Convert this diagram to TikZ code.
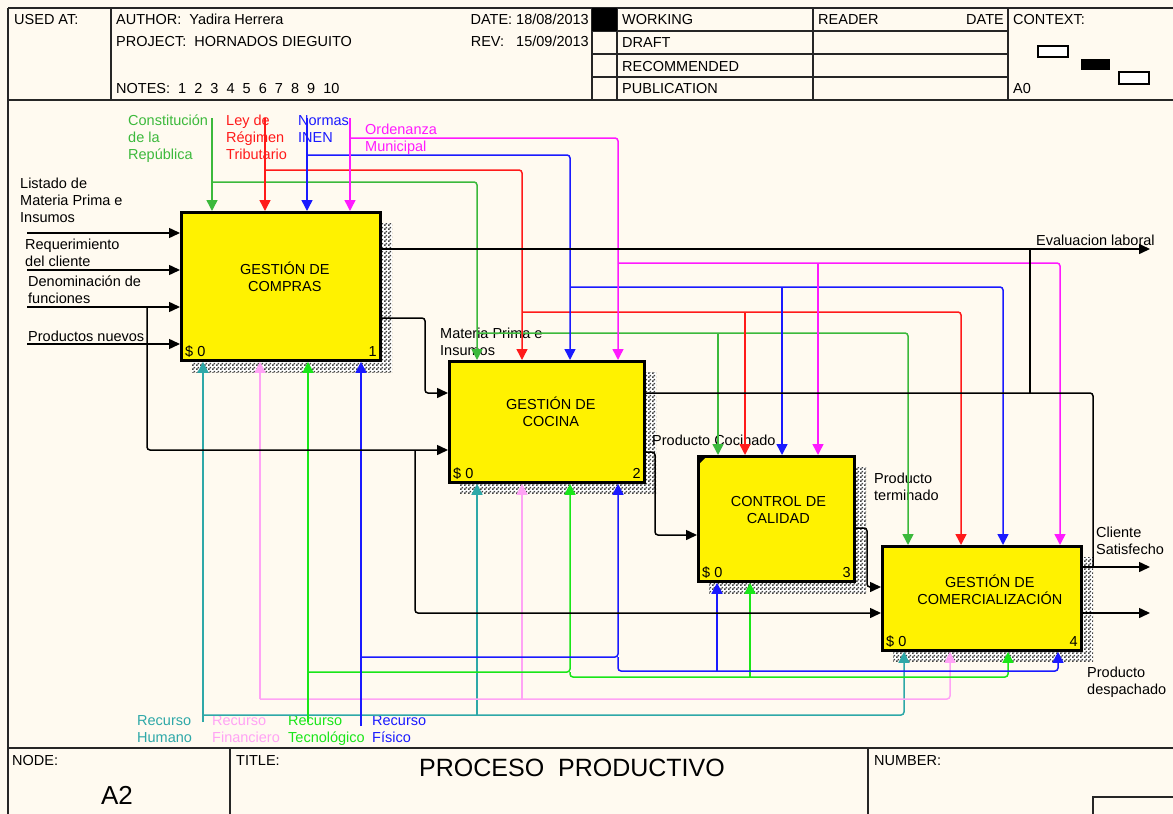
\documentclass[tikz,border=0pt]{standalone}
\usepackage{fontspec}
\setmainfont{Liberation Sans}
\usepackage{xcolor}
\usepackage{tikz}
\usetikzlibrary{arrows.meta}
\usetikzlibrary{patterns}

\definecolor{paper}{HTML}{FFFAF0}
\definecolor{verde}{HTML}{3CB93C}
\definecolor{verdeclaro}{HTML}{19E619}
\definecolor{rojo}{HTML}{FF1A1A}
\definecolor{azul}{HTML}{1A1AFF}
\definecolor{fucsia}{HTML}{FF1AFF}
\definecolor{turquesa}{HTML}{2EA8A8}
\definecolor{rosa}{HTML}{FFA3F5}

\pgfdeclarepatternformonly{tablero}{\pgfpointorigin}{\pgfqpoint{4pt}{4pt}}{\pgfqpoint{4pt}{4pt}}{%
  \pgfpathrectangle{\pgfpointorigin}{\pgfqpoint{2pt}{2pt}}%
  \pgfpathrectangle{\pgfqpoint{2pt}{2pt}}{\pgfqpoint{2pt}{2pt}}%
  \pgfusepath{fill}}

\begin{document}
\begin{tikzpicture}[x=1pt,y=-1pt,
  font=\fontsize{14.5}{17}\selectfont,
  marco/.style={line width=1.8pt, black!85},
  txt/.style={anchor=north west, inner sep=0pt, align=left},
  caja/.style={draw, line width=2.8pt, fill=yellow, anchor=north west, inner sep=0pt},
  rotulo/.style={align=center, inner sep=0pt},
  sombra/.style={fill=white, postaction={pattern=tablero, pattern color=black!75}},
  flecha/.style={line width=1.5pt, rounded corners=3pt, -{Triangle[length=11pt,width=11pt]}},
  entrada/.style={line width=1.5pt, rounded corners=3pt, -{Triangle[length=11pt,width=10pt]}},
  linea/.style={line width=1.5pt, rounded corners=3pt}]

\useasboundingbox (0,0) rectangle (1173,814);
\fill[paper] (0,0) rectangle (1173,814);

\draw[marco] (8,8) -- (1190,8);
\draw[marco] (8,8) -- (8,830);
\draw[marco] (8,100) -- (1190,100);
\draw[marco] (8,748) -- (1190,748);
\draw[marco] (111,8) -- (111,100);
\draw[marco] (592,8) -- (592,100);
\draw[marco] (617,8) -- (617,100);
\draw[marco] (813,8) -- (813,100);
\draw[marco] (1008,8) -- (1008,100);
\draw[marco] (592,31) -- (1008,31);
\draw[marco] (592,54) -- (1008,54);
\draw[marco] (592,77) -- (1008,77);
\fill (592,8) rectangle (617,31);
\draw[marco] (230,748) -- (230,830);
\draw[marco] (868,748) -- (868,830);
\draw[marco] (1093,797) rectangle (1190,830);
\draw[line width=1.4pt, fill=white] (1038,46) rectangle (1068,57);
\fill (1081,59) rectangle (1110,70);
\draw[line width=1.4pt, fill=white] (1119,72) rectangle (1149,84);

\node[txt] (usado) at (14,14) {USED AT:};
\node[txt] (autor) at (116,14) {AUTHOR:\ \ Yadira Herrera};
\node[txt] (proyecto) at (116,36) {PROJECT:\ \ HORNADOS DIEGUITO};
\node[txt] (notas) at (116,83) {NOTES:\ \ 1\ \ 2\ \ 3\ \ 4\ \ 5\ \ 6\ \ 7\ \ 8\ \ 9\ \ 10};
\node[txt, anchor=north east] (fecha) at (589,14) {DATE: 18/08/2013};
\node[txt, anchor=north east] (revision) at (589,36) {REV:\ \ \ 15/09/2013};
\node[txt] (estado1) at (622,14) {WORKING};
\node[txt] (estado2) at (622,37) {DRAFT};
\node[txt] (estado3) at (622,61) {RECOMMENDED};
\node[txt] (estado4) at (622,83) {PUBLICATION};
\node[txt] (lector) at (818,14) {READER};
\node[txt, anchor=north east] (fechalector) at (1004,14) {DATE};
\node[txt] (contexto) at (1013,14) {CONTEXT:};
\node[txt] (padre) at (1013,83) {A0};
\node[txt] (nodo) at (12,755) {NODE:};
\node[font=\fontsize{26}{30}\selectfont] (numnodo) at (117,795) {A2};
\node[txt] (titulo) at (236,755) {TITLE:};
\node[font=\fontsize{25}{30}\selectfont] (nombre) at (572,768) {PROCESO\ \ PRODUCTIVO};
\node[txt] (numero) at (874,755) {NUMBER:};

\fill[sombra] (192,223) rectangle (392,372);
\fill[sombra] (460,372) rectangle (656,493);
\fill[sombra] (709,467) rectangle (866,593);
\fill[sombra] (893,557) rectangle (1093,661);

\node[caja, minimum width=199pt, minimum height=148pt] (b1) at (180,211) {};
\node[caja, minimum width=195pt, minimum height=121pt] (b2) at (448,360) {};
\node[caja, minimum width=156pt, minimum height=125pt] (b3) at (697,455) {};
\node[caja, minimum width=199pt, minimum height=104pt] (b4) at (881,545) {};
\fill (b3.north west) -- ++(11,0) -- ++(-11,11) -- cycle;

\node[rotulo] (t1) at ([shift={(4pt,10pt)}]b1.center) {GESTIÓN DE\\COMPRAS};
\node[rotulo] (t2) at ([shift={(4pt,10pt)}]b2.center) {GESTIÓN DE\\COCINA};
\node[rotulo] (t3) at ([shift={(2pt,9pt)}]b3.center) {CONTROL DE\\CALIDAD};
\node[rotulo] (t4) at ([shift={(8pt,9pt)}]b4.center) {GESTIÓN DE\\COMERCIALIZACIÓN};
\foreach \b/\n in {b1/1,b2/2,b3/3,b4/4}{
  \node[anchor=base west, inner sep=0pt] (costo\n) at ([shift={(5pt,5pt)}]\b.south west) {\$ 0};
  \node[anchor=base east, inner sep=0pt] (num\n) at ([shift={(-5pt,5pt)}]\b.south east) {\n};
}

\node[txt, verde] (lC) at (128,115) {Constitución\\de la\\República};
\node[txt, rojo] (lL) at (226,115) {Ley de\\Régimen\\Tributario};
\node[txt, azul] (lN) at (298,115) {Normas\\INEN};
\node[txt, fucsia] (lO) at (365,124) {Ordenanza\\Municipal};
\node[txt, turquesa] (lH) at (137,715) {Recurso\\Humano};
\node[txt, rosa] (lF) at (212,715) {Recurso\\Financiero};
\node[txt, verdeclaro] (lT) at (288,715) {Recurso\\Tecnológico};
\node[txt, azul] (lP) at (372,715) {Recurso\\Físico};
\node[txt] (lLi) at (20,178) {Listado de\\Materia Prima e\\Insumos};
\node[txt] (lRe) at (25,239) {Requerimiento\\del cliente};
\node[txt] (lDe) at (28,276) {Denominación de\\funciones};
\node[txt] (lPr) at (28,331) {Productos nuevos};
\node[txt] (lEv) at (1036,235) {Evaluacion laboral};
\node[txt] (lMa) at (440,328) {Materia Prima e\\Insumos};
\node[txt] (lCo) at (652,435) {Producto Cocinado};
\node[txt] (lTe) at (874,473) {Producto\\terminado};
\node[txt] (lCl) at (1096,527) {Cliente\\Satisfecho};
\node[txt] (lDs) at (1087,667) {Producto\\despachado};

\coordinate (cC) at (212,118);
\coordinate (cL) at (265,118);
\coordinate (cN) at (307,118);
\coordinate (cO) at (350,118);
\coordinate (ve1) at (477,182);
\coordinate (ve2) at (908,333);
\coordinate (ve3) at (718,333);
\coordinate (ro1) at (522,170);
\coordinate (ro2) at (961,312);
\coordinate (ro3) at (745,312);
\coordinate (az1) at (570,155);
\coordinate (az2) at (1003,287);
\coordinate (az3) at (782,287);
\coordinate (fu1) at (618,138);
\coordinate (fu2) at (1060,263);
\coordinate (fu3) at (818,263);

\draw[flecha, verde] (cC) -- (cC |- b1.north);
\draw[flecha, verde] (cC |- ve1) -- (ve1) -- (ve1 |- b2.north);
\draw[flecha, verde] (ve1 |- ve2) -- (ve2) -- (ve2 |- b4.north);
\draw[flecha, verde] (ve3) -- (ve3 |- b3.north);
\draw[flecha, rojo] (cL) -- (cL |- b1.north);
\draw[flecha, rojo] (cL |- ro1) -- (ro1) -- (ro1 |- b2.north);
\draw[flecha, rojo] (ro1 |- ro2) -- (ro2) -- (ro2 |- b4.north);
\draw[flecha, rojo] (ro3) -- (ro3 |- b3.north);
\draw[flecha, azul] (cN) -- (cN |- b1.north);
\draw[flecha, azul] (cN |- az1) -- (az1) -- (az1 |- b2.north);
\draw[flecha, azul] (az1 |- az2) -- (az2) -- (az2 |- b4.north);
\draw[flecha, azul] (az3) -- (az3 |- b3.north);
\draw[flecha, fucsia] (cO) -- (cO |- b1.north);
\draw[flecha, fucsia] (cO |- fu1) -- (fu1) -- (fu1 |- b2.north);
\draw[flecha, fucsia] (fu1 |- fu2) -- (fu2) -- (fu2 |- b4.north);
\draw[flecha, fucsia] (fu3) -- (fu3 |- b3.north);

\coordinate (mH) at (203,722);
\coordinate (hu1) at (477,715);
\coordinate (hu2) at (904,715);
\coordinate (mF) at (260,699);
\coordinate (fn1) at (522,699);
\coordinate (fn2) at (950,699);
\coordinate (mT) at (308,722);
\coordinate (tec1) at (570,672);
\coordinate (tec2) at (1008,677);
\coordinate (tec3) at (750,677);
\coordinate (mP) at (361,726);
\coordinate (fi1) at (618,657);
\coordinate (fi2) at (1058,671);
\coordinate (fi3) at (717,671);

\draw[flecha, turquesa] (mH) -- (mH |- b1.south);
\draw[flecha, turquesa] (mH |- hu2) -- (hu2) -- (hu2 |- b4.south);
\draw[flecha, turquesa] (hu1) -- (hu1 |- b2.south);
\draw[flecha, rosa] (mF) -- (mF |- b1.south);
\draw[flecha, rosa] (mF) -- (fn2) -- (fn2 |- b4.south);
\draw[flecha, rosa] (fn1) -- (fn1 |- b2.south);
\draw[flecha, verdeclaro] (mT) -- (mT |- b1.south);
\draw[flecha, verdeclaro] (mT |- tec1) -- (tec1) -- (tec1 |- b2.south);
\draw[flecha, verdeclaro] (tec1) -- (tec1 |- tec2) -- (tec2) -- (tec2 |- b4.south);
\draw[flecha, verdeclaro] (tec3) -- (tec3 |- b3.south);
\draw[flecha, azul] (mP) -- (mP |- b1.south);
\draw[flecha, azul] (mP |- fi1) -- (fi1) -- (fi1 |- b2.south);
\draw[flecha, azul] (fi1) -- (fi1 |- fi2) -- (fi2) -- (fi2 |- b4.south);
\draw[flecha, azul] (fi3) -- (fi3 |- b3.south);

\coordinate (iL) at (27,233);
\coordinate (iR) at (27,270);
\coordinate (iD) at (27,307);
\coordinate (iP) at (27,344);
\coordinate (dn1) at (147,450);
\coordinate (dn2) at (415,613);
\draw[entrada] (iL) -- (iL -| b1.west);
\draw[entrada] (iR) -- (iR -| b1.west);
\draw[entrada] (iD) -- (iD -| b1.west);
\draw[entrada] (iP) -- (iP -| b1.west);
\draw[entrada] (iD -| dn1) -- (dn1) -- (dn1 -| b2.west);
\draw[entrada] (dn2 |- dn1) -- (dn2) -- (dn2 -| b4.west);

\coordinate (oE) at (1150,249);
\coordinate (oC) at (1150,567);
\coordinate (oD) at (1150,613);
\coordinate (mp1) at (425,318);
\coordinate (mp2) at (425,393);
\coordinate (ev1) at (1093,393);
\coordinate (ev2) at (1030,393);
\coordinate (pc1) at (655,452);
\coordinate (pc2) at (655,535);
\coordinate (pt1) at (867,528);
\coordinate (pt2) at (867,587);
\draw[entrada] (b1.east |- oE) -- (oE);
\draw[entrada] (b1.east |- mp1) -- (mp1) -- (mp2) -- (mp2 -| b2.west);
\draw[linea] (b2.east |- ev1) -- (ev1) -- (ev1 |- oC);
\draw[linea] (ev2) -- (ev2 |- oE);
\draw[entrada] (b2.east |- pc1) -- (pc1) -- (pc2) -- (pc2 -| b3.west);
\draw[entrada] (b3.east |- pt1) -- (pt1) -- (pt2) -- (pt2 -| b4.west);
\draw[entrada] (b4.east |- oC) -- (oC);
\draw[entrada] (b4.east |- oD) -- (oD);
\end{tikzpicture}
\end{document}
